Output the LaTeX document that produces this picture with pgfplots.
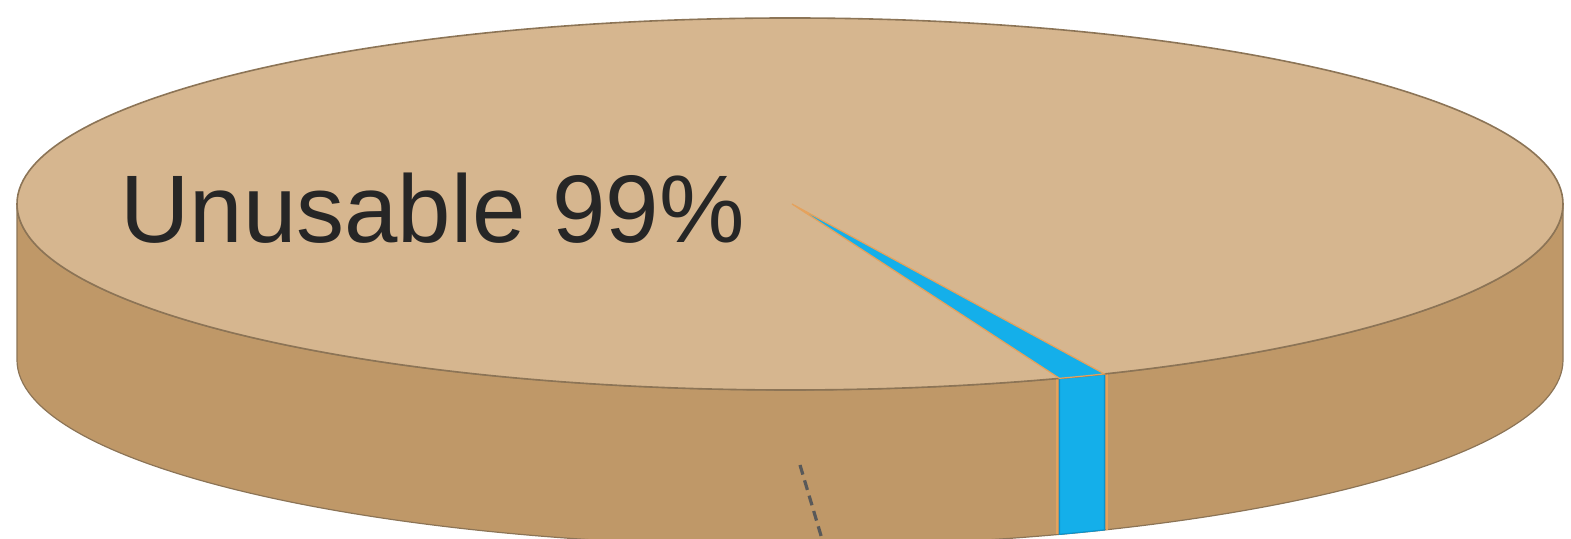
\documentclass[border=0pt]{standalone}
\usepackage{pgfplots}
\usepackage{pgfplotstable}
\pgfplotsset{compat=1.18}
\usepackage{fontspec}
\setmainfont{Liberation Sans}
\definecolor{topface}{HTML}{D6B68F}
\definecolor{sideface}{HTML}{BF9868}
\definecolor{rimline}{HTML}{8C7456}
\definecolor{slblue}{HTML}{14AFEA}
\definecolor{slbluedk}{HTML}{0C93CC}
\definecolor{sledge}{HTML}{E6A25C}
\pgfplotstableread{
label value
Unusable 99
Usable 1
}\piedata
\begin{document}
\begin{tikzpicture}
\pgfplotstablegetelem{1}{value}\of\piedata
\pgfmathsetmacro{\usable}{\pgfplotsretval}
\pgfmathsetmacro{\aend}{-66}
\pgfmathsetmacro{\astart}{\aend-3.6*\usable}
\begin{axis}[
  x=0.5pt, y=0.5pt,
  xmin=0, xmax=1571, ymin=0, ymax=539,
  hide axis, clip=false,
]
% side of the pie (front half)
\fill[sideface, draw=rimline, line width=0.6pt]
  (axis cs:17,335) arc[start angle=180, end angle=360, x radius=386.5pt, y radius=93pt]
  -- ++(0,-78pt)
  arc[start angle=360, end angle=180, x radius=386.5pt, y radius=93pt] -- cycle;
% blue slice side
\fill[slblue, draw=slbluedk, line width=0.6pt]
  (axis cs:{790+773*cos(\astart)},{335+186*sin(\astart)})
  arc[start angle=\astart, end angle=\aend, x radius=386.5pt, y radius=93pt]
  -- ++(0,-78pt)
  arc[start angle=\aend, end angle=\astart, x radius=386.5pt, y radius=93pt] -- cycle;
\draw[sledge, line width=1.2pt]
  ([xshift=-1.2pt]axis cs:{790+773*cos(\astart)},{335+186*sin(\astart)}) -- ++(0,-78pt);
\draw[sledge, line width=1.2pt]
  ([xshift=1.2pt]axis cs:{790+773*cos(\aend)},{335+186*sin(\aend)}) -- ++(0,-78pt);
% top face
\fill[topface, draw=rimline, line width=0.8pt]
  (axis cs:790,335) ellipse[x radius=386.5pt, y radius=93pt];
% blue wedge on top
\fill[slblue, draw=sledge, line width=0.6pt]
  (axis cs:792,335) -- (axis cs:{790+773*cos(\astart)},{335+186*sin(\astart)})
  arc[start angle=\astart, end angle=\aend, x radius=386.5pt, y radius=93pt] -- cycle;
% label
\node[anchor=base west, inner sep=0pt, text=black!85,
      font=\fontsize{48}{48}\selectfont] at (axis cs:120,296) {Unusable 99\%};
% leader line toward the (cut off) label of the small slice
\draw[black!65, line width=1.6pt, dash pattern=on 5pt off 3pt]
  (axis cs:800,74) -- (axis cs:822,0);
\end{axis}
\pgfresetboundingbox
\path (current axis.south west) rectangle (current axis.north east);
\end{tikzpicture}
\end{document}
